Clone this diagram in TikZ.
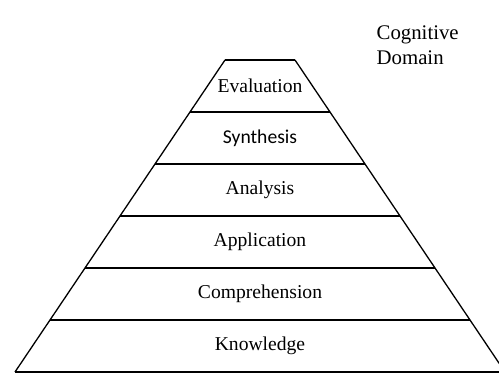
\documentclass[tikz,border=0pt]{standalone}
\usepackage{fontspec}
\setmainfont{Liberation Serif}
\newfontfamily\synfont{Carlito}
\begin{document}
\begin{tikzpicture}[x=1pt,y=1pt, line width=1.3pt, lvl/.style={font=\fontsize{19.6}{23}\selectfont, inner sep=0pt}]
\useasboundingbox (0,0) rectangle (499,374);
\coordinate (lt0) at (225,314);
\coordinate (rt0) at (295,314);
\coordinate (lt1) at (190,262);
\coordinate (rt1) at (330,262);
\coordinate (lt2) at (155,210);
\coordinate (rt2) at (365,210);
\coordinate (lt3) at (120,158);
\coordinate (rt3) at (400,158);
\coordinate (lt4) at (85,106);
\coordinate (rt4) at (435,106);
\coordinate (lt5) at (50,54);
\coordinate (rt5) at (470,54);
\coordinate (lt6) at (15,2);
\coordinate (rt6) at (505,2);
\draw[](lt0) -- (rt0);
\draw[](lt1) -- (rt1);
\draw[](lt2) -- (rt2);
\draw[](lt3) -- (rt3);
\draw[](lt4) -- (rt4);
\draw[](lt5) -- (rt5);
\draw[](lt6) -- (rt6);
\draw[](lt0) -- (lt6);
\draw[](rt0) -- (rt6);
\node[lvl] (lv1) at (260,288){Evaluation};
\node[lvl] (lv2) at (260,236){\synfont Synthesis};
\node[lvl] (lv3) at (260,184){Analysis};
\node[lvl] (lv4) at (260,132){Application};
\node[lvl] (lv5) at (260,80){Comprehension};
\node[lvl] (lv6) at (260,28){Knowledge};
\node[lvl, align=left, anchor=west, font=\fontsize{20.8}{25.5}\selectfont] (dom) at (376,329){Cognitive\\Domain};
\end{tikzpicture}
\end{document}
